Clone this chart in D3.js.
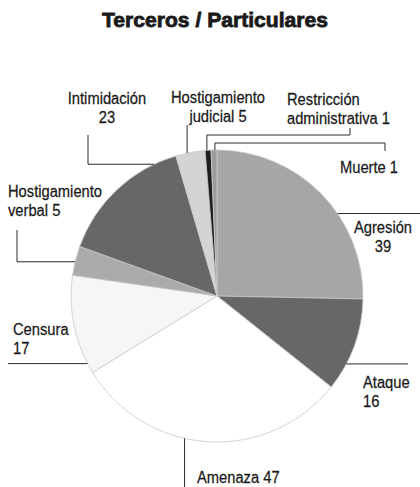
<!DOCTYPE html>
<head>
  <meta charset="utf-8">
  <title>Terceros / Particulares</title>
  <style>
    body { margin: 0; background: #fff; }
    text { font-family: "Liberation Sans", Arial, sans-serif; fill: #1a1a1a; }
  </style>
</head>
<body>
  <svg width="420" height="487"></svg>
</body>

<script src="https://d3js.org/d3.v7.min.js"></script>
<script>

// data
var categories = ["Agresión", "Ataque", "Amenaza", "Censura", "Hostigamiento verbal",
                  "Intimidación", "Hostigamiento judicial", "Restricción administrativa", "Muerte"];
var values = [39, 16, 47, 17, 5, 23, 5, 1, 1];
var sliceColors = ["#a6a6a6", "#676767", "#ffffff", "#f6f6f6", "#ababab",
                   "#676767", "#d4d4d4", "#1e1e1e", "#9c9c9c"];

// label lines of text, one entry per category
var labelLines = [
  ["Agresión", "39"], ["Ataque", "16"], ["Amenaza 47"], ["Censura", "17"],
  ["Hostigamiento", "verbal 5"], ["Intimidación", "23"], ["Hostigamiento", "judicial 5"],
  ["Restricción", "administrativa 1"], ["Muerte 1"]
];

var svg = d3.select("svg"),
    width = +svg.attr("width"),
    height = +svg.attr("height");

var cx = 217, cy = 296, radius = 146;
var squeeze = 0.92; // the original type is a condensed face

var pie = d3.pie().sort(null).value(function(d) { return d; });
var arc = d3.arc().innerRadius(0).outerRadius(radius);
var arcs = pie(values);

svg.append("text")
    .attr("transform", "translate(215,27) scale(1.03,1)")
    .attr("text-anchor", "middle")
    .style("font-size", "20.5px")
    .style("font-weight", "bold")
    .style("stroke", "#1a1a1a")
    .style("stroke-width", "0.8px")
    .text("Terceros / Particulares");

var g = svg.append("g").attr("transform", "translate(" + cx + "," + cy + ")");

g.selectAll("path")
    .data(arcs)
  .enter().append("path")
    .attr("d", arc)
    .attr("fill", function(d, i) { return sliceColors[i]; })
    .attr("stroke", "#c9c9c9")
    .attr("stroke-width", 0.8);

// point on the rim at a fraction of a slice
function rim(i, t) {
  var a = arcs[i].startAngle + t * (arcs[i].endAngle - arcs[i].startAngle);
  return [cx + radius * Math.sin(a), cy - radius * Math.cos(a)];
}

// leader routes: where on the slice they start, then the elbow points
var leaders = [
  { t: 0.61, route: function(p) { return [p, [420, p[1]]]; } },
  { t: 0.71, route: function(p) { return [p, [408, p[1]]]; } },
  { t: 0.585, route: function(p) { return [p, [p[0], 487]]; } },
  { t: 0.1, route: function(p) { return [p, [8, p[1]]]; } },
  { t: 0.46, route: function(p) { return [p, [17, p[1]], [17, 230]]; } },
  { t: 0.83, route: function(p) { return [p, [88, p[1]], [88, 135]]; } },
  { t: 0.39, route: function(p) { return [p, [p[0], 125]]; } },
  { t: 0.3, route: function(p) { return [p, [p[0], 135], [350, 135], [350, 128]]; } },
  { t: 0.65, route: function(p) { return [p, [p[0], 143], [385, 143], [385, 151]]; } }
];

var line = d3.line();
svg.append("g")
    .selectAll("path")
    .data(leaders)
  .enter().append("path")
    .attr("d", function(d, i) { return line(d.route(rim(i, d.t))); })
    .attr("fill", "none")
    .attr("stroke", "#2a2a2a")
    .attr("stroke-width", 1);

// label placement: x, first baseline, anchor
var labelPos = [
  [383, 233, "middle"], [363, 388, "start"], [197, 483, "start"], [13, 335, "start"],
  [8, 197, "start"], [107, 104, "middle"], [218, 103, "middle"],
  [287, 105, "start"], [340, 173, "start"]
];

var labels = svg.append("g")
    .selectAll("text")
    .data(labelLines)
  .enter().append("text")
    .attr("transform", function(d, i) {
      return "translate(" + labelPos[i][0] + "," + labelPos[i][1] + ") scale(" + squeeze + ",1)";
    })
    .attr("text-anchor", function(d, i) { return labelPos[i][2]; })
    .style("font-size", "16px")
    .style("stroke", "#1a1a1a")
    .style("stroke-width", "0.25px");

labels.selectAll("tspan")
    .data(function(d) { return d; })
  .enter().append("tspan")
    .attr("x", 0)
    .attr("dy", function(d, i) { return i ? 19 : 0; })
    .text(function(d) { return d; });

</script>
</html>
